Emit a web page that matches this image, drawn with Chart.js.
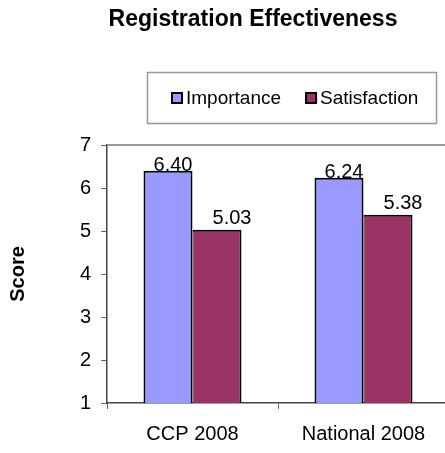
<!DOCTYPE html>
<html>
<head>
<meta charset="utf-8">
<script src="https://cdn.jsdelivr.net/npm/chart.js@4.4.1/dist/chart.umd.min.js"></script>
<style>
  html, body { margin: 0; padding: 0; background: #fff; overflow: hidden; }
  #wrap { width: 445px; height: 453px; overflow: hidden; }
</style>
</head>
<body>
<div id="wrap"><canvas id="chart" width="449" height="453"></canvas></div>
<script>
const TITLE = 'Registration Effectiveness'
const CATEGORIES = [ 'CCP 2008', 'National 2008' ]
const IMPORTANCE = [ 6.40, 6.24 ]
const SATISFACTION = [ 5.03, 5.38 ]
const Y_TICKS = [ 1, 2, 3, 4, 5, 6, 7 ]

const FONT = '"Liberation Sans", Arial, sans-serif'

// plot frame line along the top of the chart area
const topBorder = {
  id: 'topBorder',
  beforeDatasetsDraw( chart ) {
    const { ctx, chartArea: a } = chart
    ctx.save()
    ctx.strokeStyle = '#999'
    ctx.lineWidth = 2
    ctx.beginPath()
    ctx.moveTo( a.left, a.top )
    ctx.lineTo( a.right, a.top )
    ctx.stroke()
    ctx.restore()
  }
}

// numbers over the bars
const valueLabels = {
  id: 'valueLabels',
  afterDatasetsDraw( chart ) {
    const ctx = chart.ctx
    ctx.save()
    ctx.font = '20px ' + FONT
    ctx.fillStyle = '#000'
    ctx.textAlign = 'center'
    ctx.textBaseline = 'alphabetic'
    chart.data.datasets.forEach( ( ds, i ) => {
      chart.getDatasetMeta( i ).data.forEach( ( bar, j ) => {
        ctx.fillText( ds.data[ j ].toFixed( 2 ), bar.x + ds.labelDx, bar.y + ds.labelDy )
      } )
    } )
    ctx.restore()
  }
}

// title and boxed legend, placed like the original
const titleAndLegend = {
  id: 'titleAndLegend',
  afterDraw( chart ) {
    const ctx = chart.ctx
    ctx.save()
    ctx.fillStyle = '#000'
    ctx.font = 'bold 23px ' + FONT
    ctx.textAlign = 'center'
    ctx.textBaseline = 'middle'
    ctx.fillText( TITLE, 253, 20 )

    ctx.strokeStyle = '#999'
    ctx.lineWidth = 1.5
    ctx.strokeRect( 147.5, 72.5, 289, 51 )

    ctx.font = '19px ' + FONT
    ctx.textAlign = 'left'
    let x = 171
    chart.data.datasets.forEach( ds => {
      ctx.fillStyle = ds.backgroundColor
      ctx.fillRect( x, 92, 12, 12 )
      ctx.strokeStyle = '#000'
      ctx.lineWidth = 2
      ctx.strokeRect( x + 1, 93, 10, 10 )
      ctx.fillStyle = '#000'
      ctx.fillText( ds.label, x + 15, 99 )
      x += 15 + ctx.measureText( ds.label ).width + 24
    } )
    ctx.restore()
  }
}

new Chart( document.getElementById( 'chart' ), {
  type: 'bar',
  data: {
    labels: CATEGORIES,
    datasets: [
      {
        label: 'Importance',
        data: IMPORTANCE,
        backgroundColor: '#9999FF',
        borderColor: '#000',
        borderWidth: { top: 2, left: 2, right: 2, bottom: 0 },
        labelDx: 5, labelDy: 0
      },
      {
        label: 'Satisfaction',
        data: SATISFACTION,
        backgroundColor: '#993366',
        borderColor: '#000',
        borderWidth: { top: 2, left: 1, right: 2, bottom: 0 },
        labelDx: 15, labelDy: -6
      }
    ]
  },
  options: {
    responsive: false,
    animation: false,
    events: [ ],
    categoryPercentage: 0.573,
    barPercentage: 1,
    layout: { padding: { top: 145, left: 2, right: 0, bottom: 0 } },
    plugins: { legend: { display: false }, title: { display: false }, tooltip: { enabled: false } },
    scales: {
      x: {
        afterFit: ( s ) => { s.height = 50 },
        grid: { offset: true, drawOnChartArea: false, drawTicks: true, tickLength: 6, color: '#666' },
        border: { color: '#444', width: 1.5 },
        ticks: { color: '#000', font: { size: 20, family: FONT }, padding: 13 }
      },
      y: {
        min: Y_TICKS[ 0 ],
        max: Y_TICKS[ Y_TICKS.length - 1 ],
        afterBuildTicks: ( s ) => { s.ticks = Y_TICKS.map( v => ( { value: v } ) ) },
        afterFit: ( s ) => { s.width = 105 },
        grid: { drawOnChartArea: false, drawTicks: true, tickLength: 6, color: '#666' },
        border: { color: '#444', width: 1.5 },
        ticks: { color: '#000', font: { size: 20, family: FONT }, padding: 10 },
        title: {
          display: true, text: 'Score', color: '#000',
          font: { size: 20, weight: 'bold', family: FONT },
          padding: { top: 4, bottom: 4 }
        }
      }
    }
  },
  plugins: [ topBorder, valueLabels, titleAndLegend ]
} )
</script>
</body>
</html>
